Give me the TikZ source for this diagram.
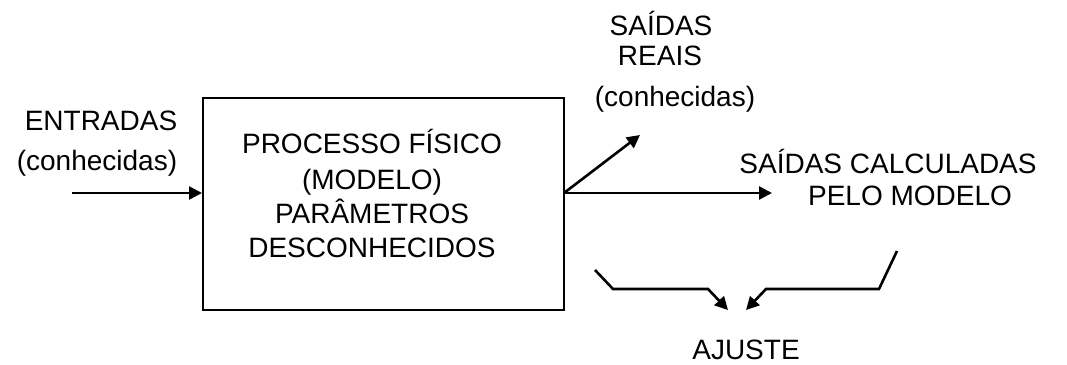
\documentclass[tikz,border=0pt]{standalone}
\usepackage{fontspec}
\setmainfont{Liberation Sans}
\usetikzlibrary{arrows.meta}
\tikzset{
  lbl/.style={anchor=base, inner sep=0pt, font=\fontsize{28}{34}\selectfont},
  frame/.style={draw, line width=2pt, inner sep=0pt},
  arr/.style={line width=2.6pt, -{Triangle[length=13pt,width=13pt]}},
  wire/.style={line width=2.6pt}
}
\begin{document}
\begin{tikzpicture}[x=1pt, y=-1pt]
\useasboundingbox (0,0) rectangle (1067,364);

% process block
\node[frame, minimum width=361pt, minimum height=212pt] (proc) at (383.5,204) {};
\node[lbl] (t1) at (372,153) {PROCESSO FÍSICO};
\node[lbl] (t2) at (372,189) {(MODELO)};
\node[lbl] (t3) at (372,223) {PARÂMETROS};
\node[lbl] (t4) at (372,257) {DESCONHECIDOS};

% inputs
\node[lbl] (ent1) at (101,130) {ENTRADAS};
\node[lbl] (ent2) at (97,170) {(conhecidas)};
\coordinate (in) at (72,193);
\draw[arr] (in) -- (in -| proc.west);

% outputs
\coordinate (split) at (564,193);
\coordinate (calc) at (772,193);
\coordinate (real) at (640,135);
\draw[wire] (proc.east |- split) -- (split);
\draw[arr] (split) -- (calc);
\draw[arr] (split) -- (real);

\node[lbl] (r1) at (661,35) {SAÍDAS};
\node[lbl] (r2) at (660,65) {REAIS};
\node[lbl] (r3) at (675,106) {(conhecidas)};

\node[lbl] (c1) at (888,173) {SAÍDAS CALCULADAS};
\node[lbl] (c2) at (910,205) {PELO MODELO};

% comparison
\node[lbl] (aj) at (746,359) {AJUSTE};
\coordinate (la) at (595,270);
\coordinate (lb) at (613,289);
\coordinate (lc) at (708,289);
\coordinate (ld) at (728,310);
\coordinate (ra) at (897,251);
\coordinate (rb) at (879,289);
\coordinate (rc) at (766,289);
\coordinate (rd) at (746,310);
\draw[arr] (la) -- (lb) -- (lc) -- (ld);
\draw[arr] (ra) -- (rb) -- (rc) -- (rd);
\end{tikzpicture}
\end{document}
